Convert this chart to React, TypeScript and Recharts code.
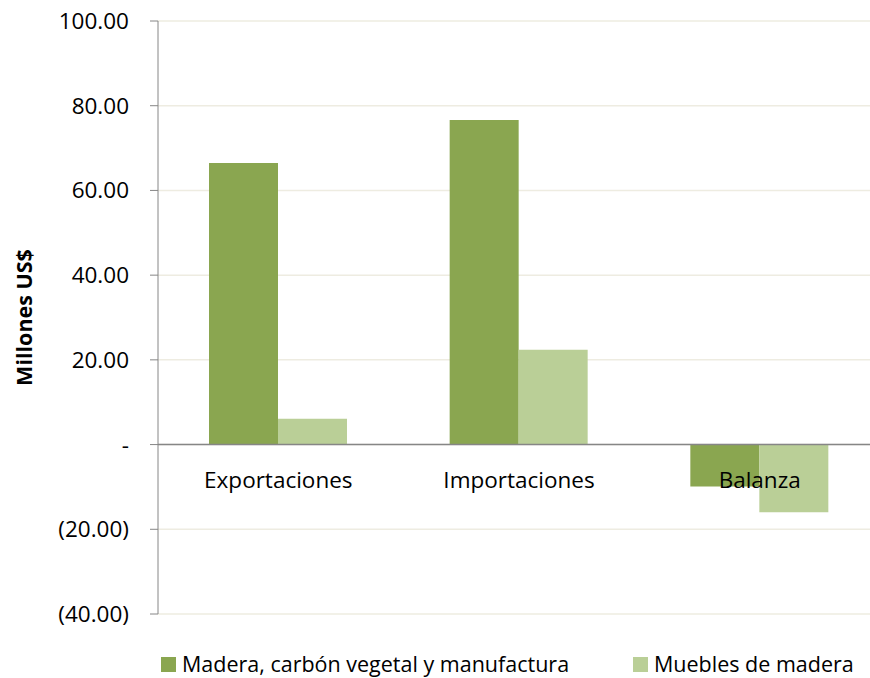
import { BarChart, Bar, XAxis, YAxis, CartesianGrid, ReferenceLine, Legend } from "recharts";

const CATEGORIES = ["Exportaciones", "Importaciones", "Balanza"];
const MADERA = [66.5, 76.6, -9.9];
const MUEBLES = [6.1, 22.4, -16.0];
const Y_TICKS = [-40, -20, 0, 20, 40, 60, 80, 100];

const SERIES = [
  { key: "madera", name: "Madera, carbón vegetal y manufactura", color: "#8aa650" },
  { key: "muebles", name: "Muebles de madera", color: "#bacf97" },
];

const data = CATEGORIES.map((cat, i) => ({
  cat,
  madera: MADERA[i],
  muebles: MUEBLES[i],
}));

const FONT = "'Open Sans', sans-serif";
const LEGEND_X = [161, 633];

const fmt = (v: number) => {
  if (v === 0) return "-";
  const s = Math.abs(v).toFixed(2);
  return v < 0 ? `(${s})` : s;
};

// category names sit just under the zero line, like Excel's "next to axis"
function CategoryLabels(props: any) {
  const vb = props.viewBox || {};
  const step = vb.width / CATEGORIES.length;
  return (
    <g>
      {CATEGORIES.map((c, i) => (
        <text
          key={c}
          x={vb.x + step * (i + 0.5)}
          y={vb.y + 35}
          textAnchor="middle"
          dominantBaseline="central"
          fontFamily={FONT}
          fontSize={22.5}
          fill="#000"
        >
          {c}
        </text>
      ))}
    </g>
  );
}

function LegendContent() {
  return (
    <div style={{ position: "relative", height: 26, fontFamily: FONT, fontSize: 21.5, color: "#000" }}>
      {SERIES.map((s, i) => (
        <div
          key={s.key}
          style={{ position: "absolute", left: LEGEND_X[i], top: 0, display: "flex", alignItems: "center", whiteSpace: "nowrap", lineHeight: "26px" }}
        >
          <span style={{ width: 15, height: 15, background: s.color, display: "inline-block", marginRight: 6 }} />
          <span>{s.name}</span>
        </div>
      ))}
    </div>
  );
}

export default function App() {
  return (
    <div style={{ position: "absolute", left: 0, top: 0, width: 870, height: 678, overflow: "hidden", background: "#fff" }}>
      <BarChart
        width={882}
        height={678}
        data={data}
        margin={{ top: 21, right: 2, bottom: 64, left: 0 }}
        barCategoryGap={51}
        barGap={0}
      >
        <CartesianGrid vertical={false} stroke="#eeece1" strokeWidth={1.5} />
        <XAxis dataKey="cat" hide />
        <YAxis
          width={158}
          domain={[-40, 100]}
          ticks={Y_TICKS}
          tickFormatter={fmt}
          tickSize={8}
          tickMargin={21}
          interval={0}
          stroke="#868686"
          tick={{ fontFamily: FONT, fontSize: 22.5, fill: "#000" }}
          label={{
            content: (p: any) => {
              const vb = p.viewBox || {};
              const cy = vb.y + vb.height / 2;
              return (
                <text
                  x={23}
                  y={cy}
                  transform={`rotate(-90, 23, ${cy})`}
                  textAnchor="middle"
                  dominantBaseline="central"
                  fontFamily={FONT}
                  fontSize={21.5}
                  fontWeight="bold"
                  fill="#000"
                >
                  Millones US$
                </text>
              );
            },
          }}
        />
        {SERIES.map((s) => (
          <Bar key={s.key} dataKey={s.key} name={s.name} fill={s.color} isAnimationActive={false} />
        ))}
        <ReferenceLine y={0} stroke="#868686" strokeWidth={1.5} label={{ content: CategoryLabels }} />
        <Legend
          layout="horizontal"
          verticalAlign="middle"
          align="center"
          content={LegendContent}
          wrapperStyle={{ top: 651, left: 0, width: 870 }}
        />
      </BarChart>
    </div>
  );
}
